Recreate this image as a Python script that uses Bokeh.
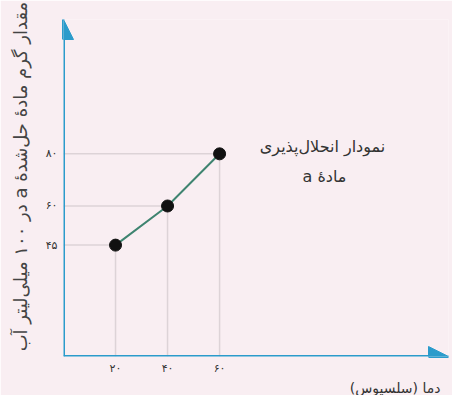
from bokeh.plotting import figure
from bokeh.models import (Arrow, NormalHead, Label, FixedTicker, Range1d,
                          ColumnDataSource, Title)
from bokeh.embed import file_html
from bokeh.resources import INLINE

# ---- data ----
temperature = [20, 40, 60]
solubility = [45, 60, 80]
x_tick_labels = ["۲۰", "۴۰", "۶۰"]
y_tick_labels = ["۴۵", "۶۰", "۸۰"]
title_line1 = "نمودار انحلال‌پذیری"
title_line2 = "مادهٔ a"
x_label = "دما (سلسیوس)"
y_label = "مقدار گرم مادهٔ حل‌شدهٔ a در ۱۰۰ میلی‌لیتر آب"

RLE, PDF = "\u202B", "\u202C"


def rtl(s):
    return RLE + s + PDF


BG = "#f9eef2"
AXIS = "#2b9bcb"
FONT = "DejaVu Sans"

x0, x1 = 0, 148
y0, y1 = 2.3, 131.5

p = figure(width=452, height=395, output_backend="svg", toolbar_location=None,
           x_range=Range1d(x0, x1), y_range=Range1d(y0, y1),
           min_border_left=63, min_border_right=4, min_border_top=19,
           min_border_bottom=0)
p.background_fill_color = BG
p.border_fill_color = BG
p.outline_line_color = None
p.xgrid.visible = False
p.ygrid.visible = False

for ax, ticks, labels in ((p.xaxis, temperature, x_tick_labels),
                          (p.yaxis, solubility, y_tick_labels)):
    ax.ticker = FixedTicker(ticks=ticks)
    ax.major_label_overrides = {t: l for t, l in zip(ticks, labels)}
    ax.axis_line_color = None
    ax.major_tick_line_color = None
    ax.minor_tick_line_color = None
    ax.major_tick_out = 0
    ax.major_tick_in = 0
    ax.minor_tick_out = 0
    ax.major_label_text_font = FONT
    ax.major_label_text_font_size = "11px"
    ax.major_label_text_color = "#333333"

p.xaxis.major_label_standoff = 5
p.yaxis.major_label_standoff = 6

p.yaxis.axis_label = rtl(y_label + "\u00a0" * 4)
p.yaxis.axis_label_text_font = FONT
p.yaxis.axis_label_text_font_size = "18px"
p.yaxis.axis_label_text_font_style = "normal"
p.yaxis.axis_label_text_color = "#444444"
p.yaxis.axis_label_standoff = 12

# x-axis label, right aligned under the axis
p.add_layout(Title(text=rtl(x_label), align="right", text_font=FONT,
                   text_font_size="14px", text_font_style="normal",
                   text_color="#333333", offset=8, standoff=0), "below")

# guide lines
src = ColumnDataSource(dict(x=temperature, y=solubility,
                            xb=[x0] * 3, yb=[y0] * 3))
p.segment(x0="x", y0="yb", x1="x", y1="y", source=src,
          line_color="#ddd3d7", line_width=1.5)
p.segment(x0="xb", y0="y", x1="x", y1="y", source=src,
          line_color="#ddd3d7", line_width=1.5)

# data line and points
p.line("x", "y", source=src, line_color="#3f8470", line_width=2)
p.scatter("x", "y", source=src, size=12, fill_color="#111111",
          line_color="#111111")

# axes with arrowheads
p.add_layout(Arrow(end=NormalHead(size=20, fill_color=AXIS, line_color=AXIS),
                   x_start=x0, y_start=y0, x_end=x0, y_end=y1,
                   line_color=AXIS, line_width=3))
p.add_layout(Arrow(end=NormalHead(size=20, fill_color=AXIS, line_color=AXIS),
                   x_start=x0, y_start=y0, x_end=x1, y_end=y0,
                   line_color=AXIS, line_width=3))

# in-plot title
p.add_layout(Label(x=259, y=210, x_units="screen", y_units="screen",
                   text=rtl(title_line1), text_font=FONT, text_font_size="16px",
                   text_align="center", text_baseline="middle",
                   text_color="#333333"))
p.add_layout(Label(x=261, y=180, x_units="screen", y_units="screen",
                   text=rtl(title_line2), text_font=FONT, text_font_size="16px",
                   text_align="center", text_baseline="middle",
                   text_color="#333333"))

open("out.html", "w").write(file_html(p, INLINE))
